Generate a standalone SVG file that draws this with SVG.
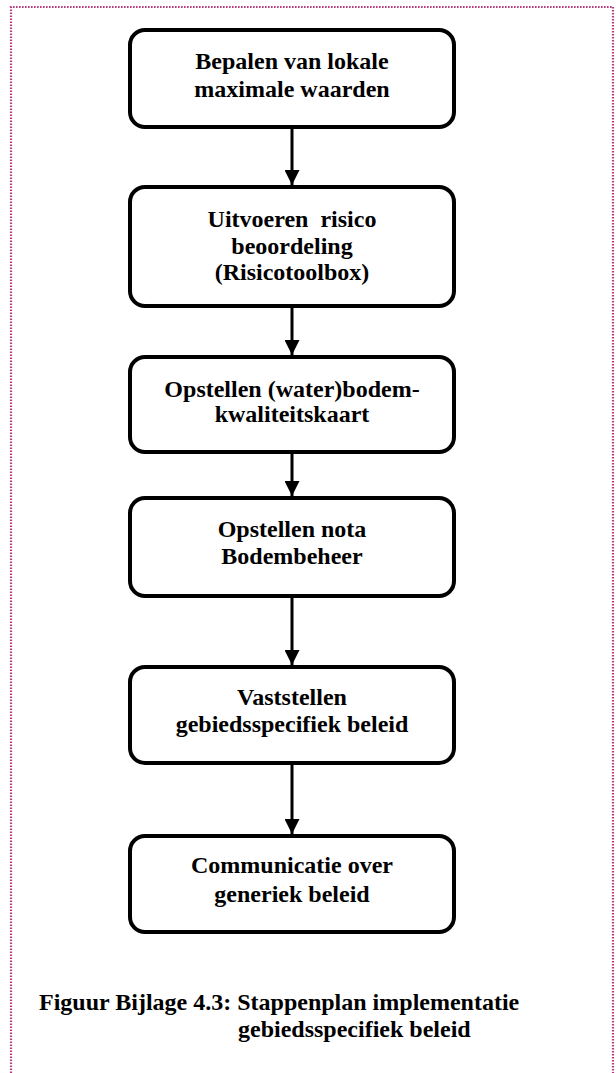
<svg xmlns="http://www.w3.org/2000/svg" width="616" height="1073" viewBox="0 0 616 1073">
  <defs>
    <marker id="arrow" markerWidth="5" markerHeight="5" refX="5" refY="2.5" orient="auto" markerUnits="strokeWidth">
      <path d="M0,0 L5,2.5 L0,5 Z" fill="#000"/>
    </marker>
    <style>
      .frame { fill: none; stroke: #b83a7c; stroke-width: 2.2; stroke-dasharray: 1.6 1.4; }
      .box { fill: #fff; stroke: #000; stroke-width: 4; }
      .label { font-family: "Liberation Serif", "Times New Roman", serif; font-weight: bold; font-size: 24px; fill: #000; text-anchor: middle; }
      .caption { font-family: "Liberation Serif", "Times New Roman", serif; font-weight: bold; font-size: 24px; fill: #000; }
      .link { stroke: #000; stroke-width: 3; fill: none; marker-end: url(#arrow); }
    </style>
  </defs>

  <rect width="616" height="1073" fill="#fff"/>

  <!-- dotted page frame (open at the bottom) -->
  <path class="frame" d="M11,1073 L11,7 L613,7 L613,1073"/>

  <!-- connectors -->
  <g id="connectors">
    <line class="link" x1="292" y1="127" x2="292" y2="185"/>
    <line class="link" x1="292" y1="306" x2="292" y2="355"/>
    <line class="link" x1="292" y1="452" x2="292" y2="496"/>
    <line class="link" x1="292" y1="596" x2="292" y2="665"/>
    <line class="link" x1="292" y1="763" x2="292" y2="834"/>
  </g>

  <g id="step1">
    <rect class="box" x="130" y="30" width="324" height="97" rx="15"/>
    <text class="label" x="292" y="69">Bepalen van lokale</text>
    <text class="label" x="292" y="97">maximale waarden</text>
  </g>

  <g id="step2">
    <rect class="box" x="130" y="187" width="324" height="119" rx="15"/>
    <text class="label" x="292" y="227" xml:space="preserve">Uitvoeren  risico</text>
    <text class="label" x="292" y="254">beoordeling</text>
    <text class="label" x="292" y="280">(Risicotoolbox)</text>
  </g>

  <g id="step3">
    <rect class="box" x="130" y="357" width="324" height="95" rx="15"/>
    <text class="label" x="292" y="397">Opstellen (water)bodem-</text>
    <text class="label" x="292" y="422">kwaliteitskaart</text>
  </g>

  <g id="step4">
    <rect class="box" x="130" y="498" width="324" height="98" rx="15"/>
    <text class="label" x="292" y="537">Opstellen nota</text>
    <text class="label" x="292" y="564">Bodembeheer</text>
  </g>

  <g id="step5">
    <rect class="box" x="130" y="667" width="324" height="96" rx="15"/>
    <text class="label" x="292" y="705">Vaststellen</text>
    <text class="label" x="292" y="732">gebiedsspecifiek beleid</text>
  </g>

  <g id="step6">
    <rect class="box" x="130" y="836" width="324" height="96" rx="15"/>
    <text class="label" x="292" y="873">Communicatie over</text>
    <text class="label" x="292" y="902">generiek beleid</text>
  </g>

  <g id="caption">
    <text class="caption" x="39" y="1010">Figuur Bijlage 4.3: Stappenplan implementatie</text>
    <text class="caption" x="238" y="1037">gebiedsspecifiek beleid</text>
  </g>
</svg>
